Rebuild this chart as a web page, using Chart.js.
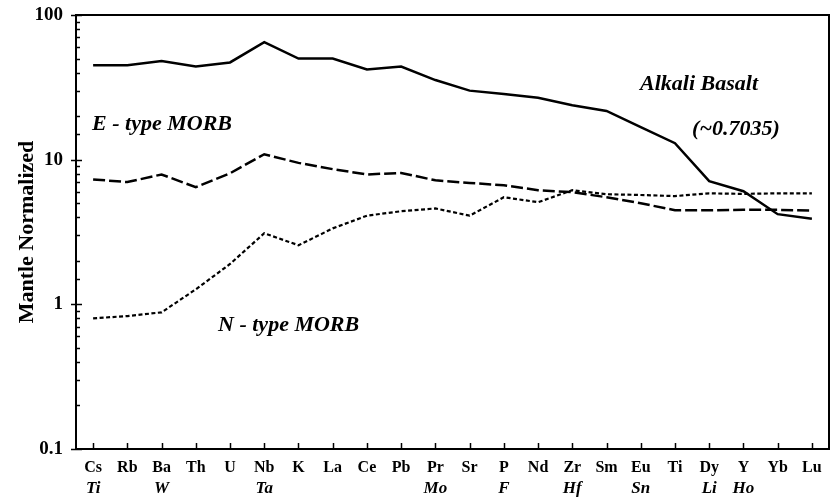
<!DOCTYPE html>
<html>
<head>
<meta charset="utf-8">
<script src="https://cdn.jsdelivr.net/npm/chart.js@4.4.1/dist/chart.umd.min.js"></script>
<style>
html,body{margin:0;padding:0;background:#fff;}
#wrap{width:834px;height:497px;}
</style>
</head>
<body>
<div id="wrap"><canvas id="myChart"></canvas></div>
<script>
// datos
var elementos  = ['Cs','Rb','Ba','Th','U','Nb','K','La','Ce','Pb','Pr','Sr','P','Nd','Zr','Sm','Eu','Ti','Dy','Y','Yb','Lu'];
var elementos2 = ['Ti','','W','','','Ta','','','','','Mo','','F','','Hf','','Sn','','Li','Ho','',''];
var alcalino = [45,45,48,44,47,65,50,50,42,44,35.5,30,28.4,26.8,23.8,21.7,16.8,13,7.1,6.05,4.2,3.9];
var morbE    = [7.3,7.0,7.9,6.45,8.05,10.9,9.5,8.6,7.9,8.1,7.2,6.9,6.66,6.15,5.96,5.5,5.0,4.47,4.47,4.5,4.5,4.45];
var morbN    = [0.80,0.83,0.88,1.27,1.9,3.1,2.56,3.35,4.1,4.4,4.6,4.1,5.5,5.08,6.15,5.77,5.7,5.6,5.85,5.8,5.85,5.85];
var marcasY  = [0.1,1,10,100];

// textos dentro del grafico: [texto, indice x, valor y]
var notas = [
  ['E - type MORB', -0.03, 16],
  ['Alkali Basalt', 15.98, 30.3],
  ['(~0.7035)', 17.5, 14.8],
  ['N - type MORB', 3.65, 0.65]
];

var serif = '"Liberation Serif", "Times New Roman", serif';

function esMayor(v){
  var l = Math.log10(v);
  return Math.abs(l - Math.round(l)) < 1e-6;
}

var extras = {
  id: 'extras',
  afterDraw: function(chart){
    var ctx = chart.ctx, a = chart.chartArea;
    var sx = chart.scales.x, sy = chart.scales.y;
    ctx.save();
    ctx.strokeStyle = '#000';
    ctx.lineWidth = 2;
    ctx.strokeRect(a.left, a.top, a.right - a.left, a.bottom - a.top);

    ctx.lineWidth = 1.5;
    sy.ticks.forEach(function(t){
      var py = Math.round(sy.getPixelForValue(t.value)) + 0.5;
      var m = esMayor(t.value);
      ctx.beginPath();
      ctx.moveTo(a.left - (m ? 5 : 0), py);
      ctx.lineTo(a.left + (m ? 6 : 4), py);
      ctx.stroke();
    });
    elementos.forEach(function(e, i){
      var px = Math.round(sx.getPixelForValue(i)) + 0.5;
      ctx.beginPath();
      ctx.moveTo(px, a.bottom);
      ctx.lineTo(px, a.bottom - 6);
      ctx.stroke();
    });

    ctx.fillStyle = '#000';
    ctx.textAlign = 'center';
    ctx.textBaseline = 'alphabetic';
    ctx.font = 'italic bold 17px ' + serif;
    elementos2.forEach(function(e, i){
      if (e) ctx.fillText(e, sx.getPixelForValue(i), a.bottom + 44);
    });

    ctx.textAlign = 'left';
    ctx.font = 'italic bold 22px ' + serif;
    notas.forEach(function(n){
      ctx.fillText(n[0], sx.getPixelForValue(n[1]), sy.getPixelForValue(n[2]));
    });
    ctx.restore();
  }
};

var ctx = document.getElementById('myChart').getContext('2d');
var myChart = new Chart(ctx, {
  type: 'line',
  data: {
    labels: elementos,
    datasets: [
      { label: 'Alkali Basalt', data: alcalino, borderColor: '#000', borderWidth: 2.5, pointRadius: 0, tension: 0 },
      { label: 'E - type MORB', data: morbE, borderColor: '#000', borderWidth: 2.5, borderDash: [12, 4], pointRadius: 0, tension: 0 },
      { label: 'N - type MORB', data: morbN, borderColor: '#000', borderWidth: 2.2, borderDash: [4, 2.5], pointRadius: 0, tension: 0 }
    ]
  },
  options: {
    responsive: true,
    maintainAspectRatio: false,
    animation: false,
    layout: { padding: { left: 0, right: 5, top: 15, bottom: 0 } },
    plugins: { legend: { display: false }, tooltip: { enabled: false } },
    scales: {
      x: {
        type: 'category',
        offset: true,
        grid: { display: false, drawTicks: false },
        border: { display: false },
        ticks: { color: '#000', font: { family: serif, weight: 'bold', size: 16 }, padding: 9, maxRotation: 0, autoSkip: false },
        afterFit: function(s){ s.height = 48; }
      },
      y: {
        type: 'logarithmic',
        min: 0.1,
        max: 100,
        grid: { display: false, drawTicks: false },
        border: { display: false },
        ticks: {
          color: '#000',
          autoSkip: false,
          padding: 13,
          font: { family: serif, weight: 'bold', size: 19 },
          callback: function(v){ return esMayor(v) ? String(v) : ''; }
        },
        title: { display: true, text: 'Mantle Normalized', color: '#000', font: { family: serif, weight: 'bold', size: 22 }, padding: { top: 14, bottom: 0 } },
        afterFit: function(s){ s.width = 76; s.paddingTop = 0; s.paddingBottom = 0; }
      }
    }
  },
  plugins: [extras]
});
</script>
</body>
</html>
